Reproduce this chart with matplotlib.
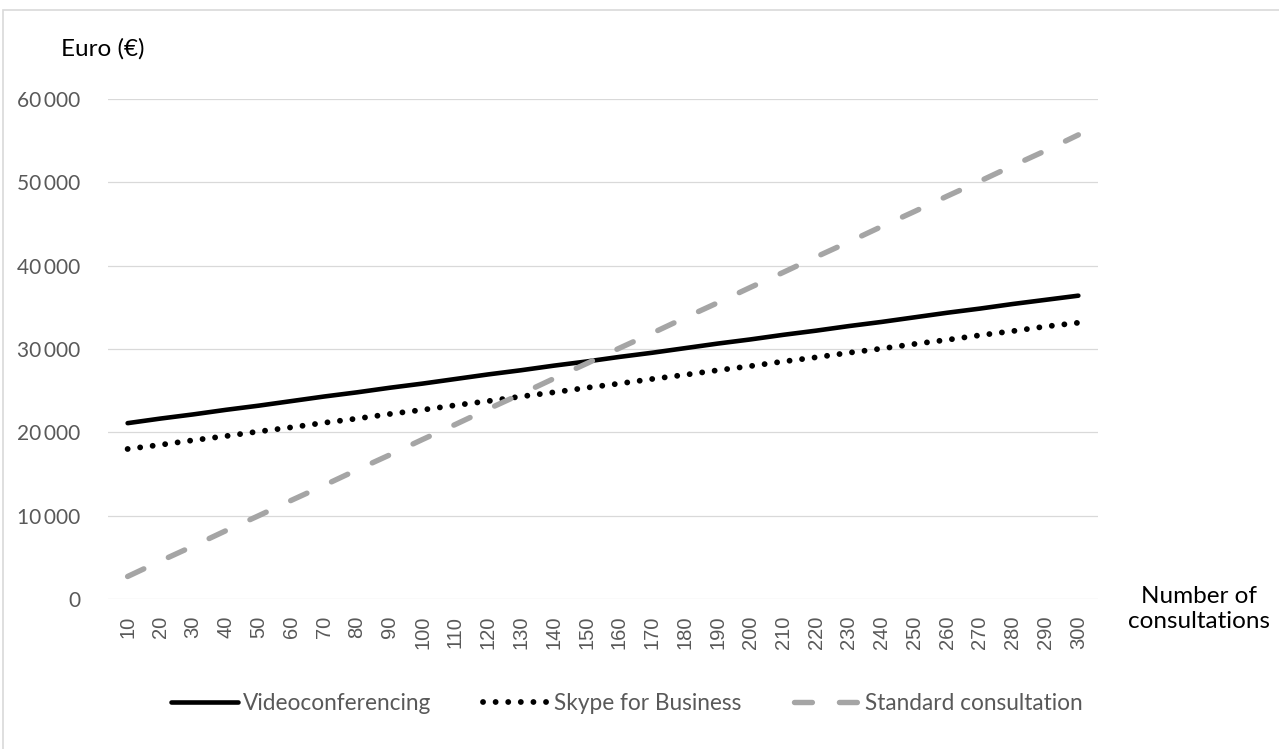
import matplotlib.pyplot as plt
from matplotlib.patches import Rectangle

# consultations per year and yearly cost in euro
consultations = [10, 20, 30, 40, 50, 60, 70, 80, 90, 100,
                 110, 120, 130, 140, 150, 160, 170, 180, 190, 200,
                 210, 220, 230, 240, 250, 260, 270, 280, 290, 300]
videoconferencing = [21100, 21650, 22150, 22700, 23200, 23750, 24300, 24800, 25350, 25850,
                     26400, 26950, 27450, 28000, 28500, 29050, 29550, 30100, 30650, 31150,
                     31700, 32200, 32750, 33250, 33800, 34350, 34850, 35400, 35900, 36400]
skype_for_business = [18000, 18500, 19050, 19550, 20100, 20600, 21150, 21650, 22200, 22700,
                      23250, 23750, 24300, 24800, 25350, 25850, 26400, 26900, 27450, 27950,
                      28500, 29000, 29550, 30050, 30600, 31100, 31650, 32150, 32700, 33150]
standard_consultation = [2700, 4550, 6350, 8200, 10000, 11850, 13650, 15500, 17300, 19150,
                         20950, 22800, 24600, 26450, 28250, 30100, 31900, 33750, 35550, 37400,
                         39200, 41050, 42850, 44700, 46500, 48350, 50150, 52000, 53800, 55700]
y_ticks = [0, 10000, 20000, 30000, 40000, 50000, 60000]

plt.rcParams['font.family'] = ['Lato', 'DejaVu Sans']

fig = plt.figure(figsize=(12.79, 7.49), dpi=100)
ax = fig.add_axes([0.0844, 0.2003, 0.7741, 0.6675])

# light frame around the chart
fig.patches.append(Rectangle((3 / 1279, -0.01), 1.01, 0.998 - 9 / 749 + 0.01,
                             transform=fig.transFigure, fill=False,
                             edgecolor='#d9d9d9', linewidth=1.2))

x = list(range(len(consultations)))
ax.plot(x, videoconferencing, color='black', linewidth=3.3,
        solid_capstyle='round', label='Videoconferencing')
ax.plot(x, skype_for_business, color='black', linewidth=4.2,
        linestyle=(0, (0.01, 2.15)), dash_capstyle='round', label='Skype for Business')
ax.plot(x, standard_consultation, color='#a5a5a5', linewidth=3.9,
        linestyle=(0, (3.3, 5.0)), dash_capstyle='round', label='Standard consultation')

ax.set_xlim(-0.6, len(consultations) - 0.4)
ax.set_ylim(0, 60000)
ax.set_xticks(x)
ax.set_xticklabels([str(c) for c in consultations], rotation=90,
                   fontsize=14.5, color='#595959', family='Liberation Sans')
ax.set_yticks(y_ticks)
ax.set_yticklabels([f'{v:,}'.replace(',', '\u2009') for v in y_ticks],
                   fontsize=15, color='#595959')
ax.tick_params(length=0, pad=12)
ax.tick_params(axis='y', pad=20)
ax.grid(axis='y', color='#d9d9d9', linewidth=0.9)
for s in ax.spines.values():
    s.set_visible(False)

fig.text(61 / 1279, 1 - 49 / 749, 'Euro (€)', fontsize=17.5, va='center', ha='left')
fig.text(1199 / 1279, 1 - 609 / 749, 'Number of\nconsultations', fontsize=17.5,
         ha='center', va='center', linespacing=1.25)

leg = fig.legend(loc='center', bbox_to_anchor=(627 / 1279, 1 - 703 / 749), ncol=3,
                 frameon=False, fontsize=16.3, handlelength=2.95, handletextpad=0.2,
                 columnspacing=2.3)
for t in leg.get_texts():
    t.set_color('#595959')

fig.savefig('out.png', dpi=100)
